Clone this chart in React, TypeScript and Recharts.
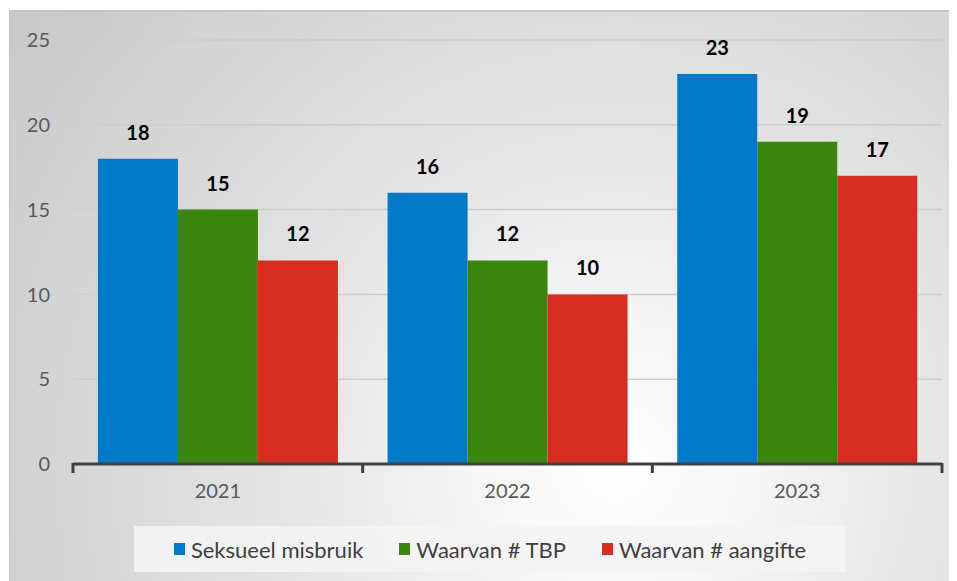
import React from 'react';
import {
  BarChart,
  Bar,
  XAxis,
  YAxis,
  CartesianGrid,
  LabelList,
  Legend,
} from 'recharts';

const years = ['2021', '2022', '2023'];
const seksueelMisbruik = [18, 16, 23];
const waarvanTBP = [15, 12, 19];
const waarvanAangifte = [12, 10, 17];
const yTicks = [0, 5, 10, 15, 20, 25];

const series = [
  { key: 'misbruik', name: 'Seksueel misbruik', fill: '#0079C8' },
  { key: 'tbp', name: 'Waarvan # TBP', fill: '#3A860F' },
  { key: 'aangifte', name: 'Waarvan # aangifte', fill: '#D62D20' },
];

const chartData = years.map((year, i) => ({
  year,
  misbruik: seksueelMisbruik[i],
  tbp: waarvanTBP[i],
  aangifte: waarvanAangifte[i],
}));

const WIDTH = 948;
const HEIGHT = 571;
const margin = { top: 30, right: 15, bottom: 41, left: 9 };
const Y_WIDTH = 55;
const FONT = 'Lato, "Open Sans", sans-serif';

// ticks sit on the category boundaries, not on the centres
const YearTick = (props: any) => {
  const { x, y, payload, index } = props;
  const band = (WIDTH - margin.left - margin.right - Y_WIDTH) / years.length;
  const axisY = y - 8;
  return (
    <g>
      <line x1={x - band / 2} x2={x - band / 2} y1={axisY - 1} y2={axisY + 9} stroke="#404040" strokeWidth={3} />
      {index === years.length - 1 && (
        <line x1={x + band / 2} x2={x + band / 2} y1={axisY - 1} y2={axisY + 9} stroke="#404040" strokeWidth={3} />
      )}
      <text x={x} y={y + 26} textAnchor="middle" fill="#595959" fontSize={20} fontFamily={FONT}>
        {payload.value}
      </text>
    </g>
  );
};

const LegendBox = () => (
  <div
    style={{
      width: '100%',
      height: '100%',
      background: 'rgba(244,244,244,0.9)',
      display: 'flex',
      alignItems: 'center',
      justifyContent: 'center',
      gap: 36,
      fontFamily: FONT,
      fontSize: 22,
      color: '#404040',
    }}
  >
    {series.map((s) => (
      <div key={s.key} style={{ display: 'flex', alignItems: 'center' }}>
        <span style={{ width: 11, height: 12, background: s.fill, marginRight: 6, display: 'inline-block' }} />
        <span>{s.name}</span>
      </div>
    ))}
  </div>
);

export default function App() {
  return (
    <div
      style={{
        marginLeft: 1,
        marginTop: 2,
        width: WIDTH,
        height: HEIGHT,
        boxSizing: 'border-box',
        borderTop: '2px solid #c4c4c4',
        borderLeft: '1px solid #c4c4c4',
        background: 'radial-gradient(circle at 64% 80%, #ffffff 0%, #f6f6f6 18%, #e4e4e4 45%, #c8c8c8 100%)',
      }}
    >
      <BarChart
        width={WIDTH}
        height={HEIGHT}
        data={chartData}
        margin={margin}
        barCategoryGap="8.6%"
        barGap={0}
        style={{ marginTop: -2, marginLeft: -1 }}
      >
        <CartesianGrid vertical={false} stroke="#cdcdcd" strokeWidth={1.5} />
        <YAxis
          width={Y_WIDTH}
          domain={[0, 25]}
          ticks={yTicks}
          interval={0}
          axisLine={false}
          tickLine={false}
          tickMargin={17}
          tick={{ fill: '#595959', fontSize: 20, fontFamily: FONT }}
        />
        <XAxis
          dataKey="year"
          axisLine={{ stroke: '#404040', strokeWidth: 3 }}
          tickLine={false}
          tick={<YearTick />}
        />
        <Legend
          verticalAlign="bottom"
          content={<LegendBox />}
          wrapperStyle={{ left: 125, top: 516, width: 712, height: 46 }}
        />
        {series.map((s) => (
          <Bar key={s.key} dataKey={s.key} name={s.name} fill={s.fill} isAnimationActive={false}>
            <LabelList
              dataKey={s.key}
              position="top"
              offset={19}
              fill="#000000"
              fontSize={20}
              fontWeight="bold"
              fontFamily={FONT}
            />
          </Bar>
        ))}
      </BarChart>
    </div>
  );
}
